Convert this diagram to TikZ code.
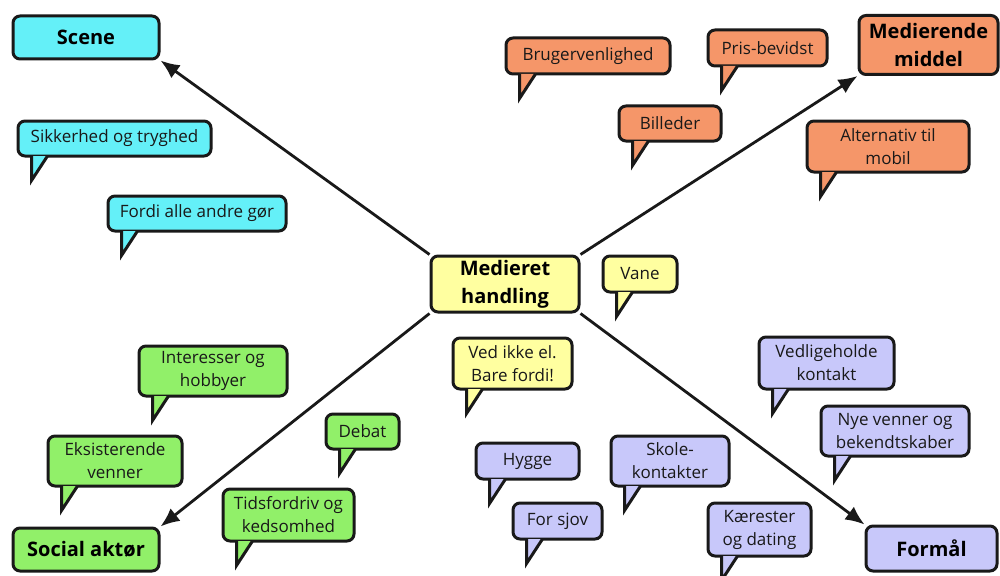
\documentclass[tikz,border=0pt]{standalone}
\usepackage{fontspec}
\setmainfont{Open Sans}
\usetikzlibrary{arrows.meta,calc}

\definecolor{scenecol}{RGB}{100,240,248}
\definecolor{middelcol}{RGB}{245,150,105}
\definecolor{handlingcol}{RGB}{255,255,160}
\definecolor{aktorcol}{RGB}{145,240,105}
\definecolor{formaalcol}{RGB}{200,200,250}
\definecolor{edgecol}{RGB}{25,25,25}

% tail of a speech bubble, hanging below its left part
\newcommand{\bubbletail}[2]{%
  \filldraw[tail, fill=#2] ($(#1.south west)+(15,-1.5)$) -- ++(0,24.5) -- ($(#1.south west)+(31,-1.5)$);}

\begin{document}
\begin{tikzpicture}[x=1pt,y=-1pt,
  bubble/.style={draw=edgecol, line width=3pt, rounded corners=7pt, align=center,
    inner sep=1pt, text=black!90, font=\fontsize{17}{23}\selectfont},
  mainbox/.style={bubble, text=black, font=\fontsize{20}{28}\selectfont\bfseries},
  tail/.style={draw=edgecol, line width=3pt},
  link/.style={draw=edgecol, line width=2.8pt, -{Latex[length=19pt,width=16pt]}}]
\useasboundingbox (0,0) rectangle (1000,575);

% Node: main boxes
\node[mainbox, fill=handlingcol, minimum width=148, minimum height=56] (handling) at (505,284) {Medieret\\handling};
\node[mainbox, fill=scenecol, minimum width=146, minimum height=43] (scene) at (86,37.5) {Scene};
\node[mainbox, fill=middelcol, minimum width=139, minimum height=59] (middel) at (928.5,45) {Medierende\\middel};
\node[mainbox, fill=aktorcol, minimum width=146, minimum height=43] (aktor) at (86,549.5) {Social aktør};
\node[mainbox, fill=formaalcol, minimum width=131, minimum height=45] (formaal) at (931.5,548.5) {Formål};

% Edge: handling -> corners
\draw[link] (handling.north west) -- (scene.south east);
\draw[link] (handling.north east) -- (middel.south west);
\draw[link] (handling.south west) -- (aktor.north east);
\draw[link] (handling.south east) -- (formaal.north west);

% Node: scene bubbles
\node[bubble, fill=scenecol, minimum width=193, minimum height=35] (sikkerhed) at (114.5,138.5) {Sikkerhed og tryghed};
\bubbletail{sikkerhed}{scenecol}
\node[bubble, fill=scenecol, minimum width=178, minimum height=35] (fordi) at (197,213.5) {Fordi alle andre gør};
\bubbletail{fordi}{scenecol}

% Node: middel bubbles
\node[bubble, fill=middelcol, minimum width=164, minimum height=36] (bruger) at (588,56) {Brugervenlighed};
\bubbletail{bruger}{middelcol}
\node[bubble, fill=middelcol, minimum width=119, minimum height=36] (pris) at (767.5,48) {Pris-bevidst};
\bubbletail{pris}{middelcol}
\node[bubble, fill=middelcol, minimum width=102, minimum height=35] (billeder) at (670,123.5) {Billeder};
\bubbletail{billeder}{middelcol}
\node[bubble, fill=middelcol, minimum width=162, minimum height=51] (alternativ) at (888,146.5) {Alternativ til\\mobil};
\bubbletail{alternativ}{middelcol}

% Node: handling bubbles
\node[bubble, fill=handlingcol, minimum width=74, minimum height=36] (vane) at (640,274) {Vane};
\bubbletail{vane}{handlingcol}
\node[bubble, fill=handlingcol, minimum width=119, minimum height=51] (vedikke) at (512.5,363.5) {Ved ikke el.\\Bare fordi!};
\bubbletail{vedikke}{handlingcol}

% Node: aktor bubbles
\node[bubble, fill=aktorcol, minimum width=148, minimum height=50] (interesser) at (213,371) {Interesser og\\hobbyer};
\bubbletail{interesser}{aktorcol}
\node[bubble, fill=aktorcol, minimum width=134, minimum height=50] (eksisterende) at (115,461) {Eksisterende\\venner};
\bubbletail{eksisterende}{aktorcol}
\node[bubble, fill=aktorcol, minimum width=73, minimum height=35] (debat) at (362.5,431.5) {Debat};
\bubbletail{debat}{aktorcol}
\node[bubble, fill=aktorcol, minimum width=131, minimum height=52] (tidsfordriv) at (288.5,515) {Tidsfordriv og\\kedsomhed};
\bubbletail{tidsfordriv}{aktorcol}

% Node: formaal bubbles
\node[bubble, fill=formaalcol, minimum width=135, minimum height=52] (vedligehold) at (826.5,363) {Vedligeholde\\kontakt};
\bubbletail{vedligehold}{formaalcol}
\node[bubble, fill=formaalcol, minimum width=148, minimum height=50] (nye) at (895,431) {Nye venner og\\bekendtskaber};
\bubbletail{nye}{formaalcol}
\node[bubble, fill=formaalcol, minimum width=103, minimum height=36] (hygge) at (527.5,461) {Hygge};
\bubbletail{hygge}{formaalcol}
\node[bubble, fill=formaalcol, minimum width=89, minimum height=36] (forsjov) at (557.5,521) {For sjov};
\bubbletail{forsjov}{formaalcol}
\node[bubble, fill=formaalcol, minimum width=118, minimum height=50] (skole) at (670,461) {Skole-\\kontakter};
\bubbletail{skole}{formaalcol}
\node[bubble, fill=formaalcol, minimum width=103, minimum height=53] (kaerester) at (759.5,529.5) {Kærester\\og dating};
\bubbletail{kaerester}{formaalcol}
\end{tikzpicture}
\end{document}
